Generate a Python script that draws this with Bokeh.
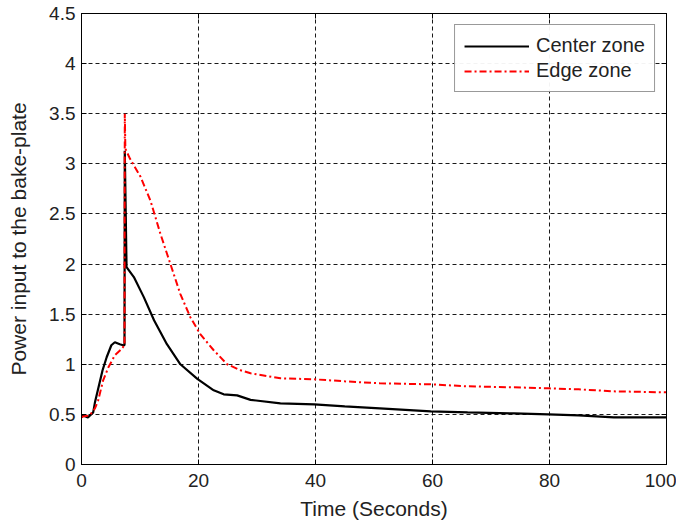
from bokeh.plotting import figure
from bokeh.models import LinearAxis, FixedTicker, Legend, LegendItem, Range1d
from bokeh.embed import file_html
from bokeh.resources import INLINE

# Data
t_center = [0, 0.3, 1.1, 2.0, 2.3, 2.85, 3.6, 4.3, 5.1, 5.7, 6.55, 7.1, 7.35, 7.4, 7.7,
            8.95, 10.65, 12.4, 14.6, 16.9, 19.8, 22.6, 24.3, 26.6, 28.9, 34, 39.8, 45,
            51, 59.7, 66, 73.9, 79.8, 85, 91, 100]
p_center = [0.47, 0.49, 0.47, 0.52, 0.62, 0.755, 0.94, 1.07, 1.19, 1.22, 1.20, 1.19, 1.19,
            3.13, 1.97, 1.87, 1.67, 1.44, 1.20, 1.00, 0.855, 0.74, 0.70, 0.69, 0.645, 0.61,
            0.60, 0.58, 0.56, 0.53, 0.52, 0.51, 0.50, 0.49, 0.47, 0.47]

t_edge = [0, 0.3, 1.4, 2.3, 2.85, 3.7, 4.6, 5.7, 6.8, 7.35, 7.4, 7.5, 8.3, 10.1, 11.8, 13.5,
          15.2, 16.9, 18.6, 20.3, 22.6, 24.9, 27.2, 28.9, 34, 39.8, 45, 51, 59.7, 66, 73.9,
          79.8, 85, 91, 100]
p_edge = [0.47, 0.48, 0.49, 0.56, 0.64, 0.84, 0.97, 1.09, 1.15, 1.19, 3.5, 3.15, 3.05, 2.87,
          2.63, 2.30, 2.0, 1.70, 1.47, 1.30, 1.14, 1.00, 0.94, 0.91, 0.86, 0.85, 0.83, 0.81,
          0.80, 0.78, 0.77, 0.76, 0.75, 0.73, 0.72]

x_ticks = [0, 20, 40, 60, 80, 100]
y_ticks = [0, 0.5, 1, 1.5, 2, 2.5, 3, 3.5, 4, 4.5]

FONT = "Liberation Sans"
TXT = "#222222"

p = figure(width=676, height=528, output_backend="svg", toolbar_location=None,
           x_range=Range1d(0, 100), y_range=Range1d(0, 4.5),
           min_border_left=81, min_border_right=10, min_border_top=13, min_border_bottom=64)
p.xaxis.visible = False
p.yaxis.visible = False

def style_axis(ax, ticks, labels=True):
    ax.ticker = FixedTicker(ticks=ticks)
    ax.major_tick_in = 5
    ax.major_tick_out = 0
    ax.minor_tick_line_color = None
    ax.axis_line_color = "black"
    ax.major_tick_line_color = "black"
    ax.major_label_text_font = FONT
    ax.major_label_text_font_size = "19px"
    ax.major_label_text_color = TXT
    if not labels:
        ax.major_label_overrides = {t: "" for t in ticks}
        ax.major_label_standoff = 0
    return ax

bx = style_axis(LinearAxis(), x_ticks)
bx.axis_label = "Time (Seconds)"
bx.axis_label_text_font = FONT
bx.axis_label_text_font_size = "21px"
bx.axis_label_text_font_style = "normal"
bx.axis_label_text_color = TXT
bx.major_label_standoff = 9
bx.axis_label_standoff = 7

ly = style_axis(LinearAxis(), y_ticks)
ly.axis_label = "Power input to the bake-plate"
ly.axis_label_text_font = FONT
ly.axis_label_text_font_size = "21px"
ly.axis_label_text_font_style = "normal"
ly.axis_label_text_color = TXT
ly.major_label_standoff = 6
ly.axis_label_standoff = 16
ly.major_label_overrides = {0: "0", 1: "1", 2: "2", 3: "3", 4: "4"}

p.add_layout(bx, "below")
p.add_layout(ly, "left")
p.add_layout(style_axis(LinearAxis(), x_ticks, labels=False), "above")
p.add_layout(style_axis(LinearAxis(), y_ticks, labels=False), "right")

p.xgrid.ticker = FixedTicker(ticks=x_ticks)
p.ygrid.ticker = FixedTicker(ticks=y_ticks)
for g in (p.xgrid, p.ygrid):
    g.grid_line_color = "black"
    g.grid_line_dash = "4 3"
    g.grid_line_width = 1
    g.grid_line_alpha = 0.9

p.outline_line_color = "black"
p.outline_line_width = 1

r1 = p.line(t_center, p_center, line_color="black", line_width=2.2)
r2 = p.line(t_edge, p_edge, line_color="#ff0000", line_width=2, line_dash="7 3 2 3")

legend = Legend(items=[LegendItem(label="Center zone", renderers=[r1]),
                       LegendItem(label="Edge zone", renderers=[r2])],
                location="top_right")
legend.label_text_font = FONT
legend.label_text_font_size = "20px"
legend.label_text_color = TXT
legend.border_line_color = "#333333"
legend.border_line_width = 1.5
legend.glyph_width = 65
legend.glyph_height = 20
legend.label_standoff = 7
legend.padding = 9
legend.spacing = 2
legend.margin = 11
legend.background_fill_color = "white"
p.add_layout(legend)

open("out.html", "w").write(file_html(p, INLINE))
